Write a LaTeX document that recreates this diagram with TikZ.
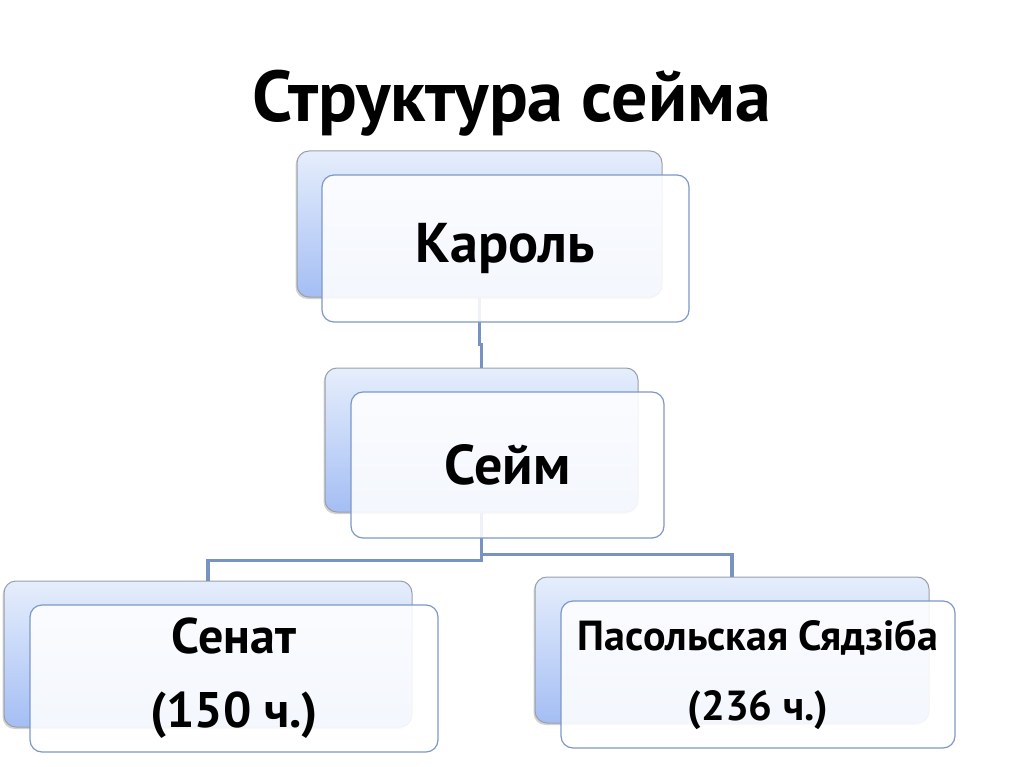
\documentclass[tikz,border=0pt]{standalone}
\usepackage{fontspec}
\setmainfont{PT Sans}
\usetikzlibrary{shadows}

\definecolor{backtop}{HTML}{E6EEFC}
\definecolor{backbot}{HTML}{A4BEF4}
\definecolor{backedge}{HTML}{9A9FA8}
\definecolor{frontedge}{HTML}{7D98C8}
\definecolor{linkblue}{HTML}{7892C2}

\tikzset{
  backbox/.style={rectangle, rounded corners=12pt, inner sep=0pt,
    draw=backedge, line width=1pt, top color=backtop, bottom color=backbot,
    drop shadow={shadow xshift=-1.5pt, shadow yshift=-2pt, opacity=0.35}},
  frontbox/.style={rectangle, rounded corners=12pt, inner sep=0pt,
    draw=frontedge, line width=1.2pt, fill=white, fill opacity=0.88,
    text opacity=1, align=center},
  link/.style={draw=linkblue, line width=3.6pt},
}

\begin{document}
\begin{tikzpicture}[x=1pt, y=-1pt]

  % page
  \fill[white] (0,0) rectangle (1024,767);
  \useasboundingbox (0,0) rectangle (1024,767);

  % title
  \node[anchor=base, font=\fontsize{72}{80}\selectfont\bfseries] (title) at (512,122) {Структура сейма};

  % back boxes
  \node[backbox, minimum width=365pt, minimum height=146pt] (karolB) at (479.5,224) {};
  \node[backbox, minimum width=313pt, minimum height=144pt] (sejmB) at (481.5,440) {};
  \node[backbox, minimum width=408pt, minimum height=146pt] (senatB) at (208,654) {};
  \node[backbox, minimum width=394pt, minimum height=146pt] (posolB) at (732,650) {};

  % links
  \draw[link] (karolB.south) -- ++(0,47) -| (sejmB.north);
  \draw[link] (sejmB.south) -- ++(0,48) -| (senatB.north);
  \draw[link] (sejmB.south) -- ++(0,42) -| (posolB.north);

  % front boxes
  \node[frontbox, minimum width=367pt, minimum height=147pt,
        font=\fontsize{56}{60}\selectfont\bfseries] (karol) at (505.5,248.5) {Кароль};
  \node[frontbox, minimum width=313pt, minimum height=146pt,
        font=\fontsize{56}{60}\selectfont\bfseries] (sejm) at (507.5,465) {Сейм};
  \node[frontbox, minimum width=408pt, minimum height=147pt,
        font=\fontsize{50}{74}\selectfont\bfseries] (senat) at (234,678.5) {Сенат\\(150 ч.)};
  \node[frontbox, minimum width=394pt, minimum height=147pt,
        font=\fontsize{42}{70}\selectfont\bfseries] (posol) at (758,674.5) {Пасольская Сядзіба\\(236 ч.)};

\end{tikzpicture}
\end{document}
